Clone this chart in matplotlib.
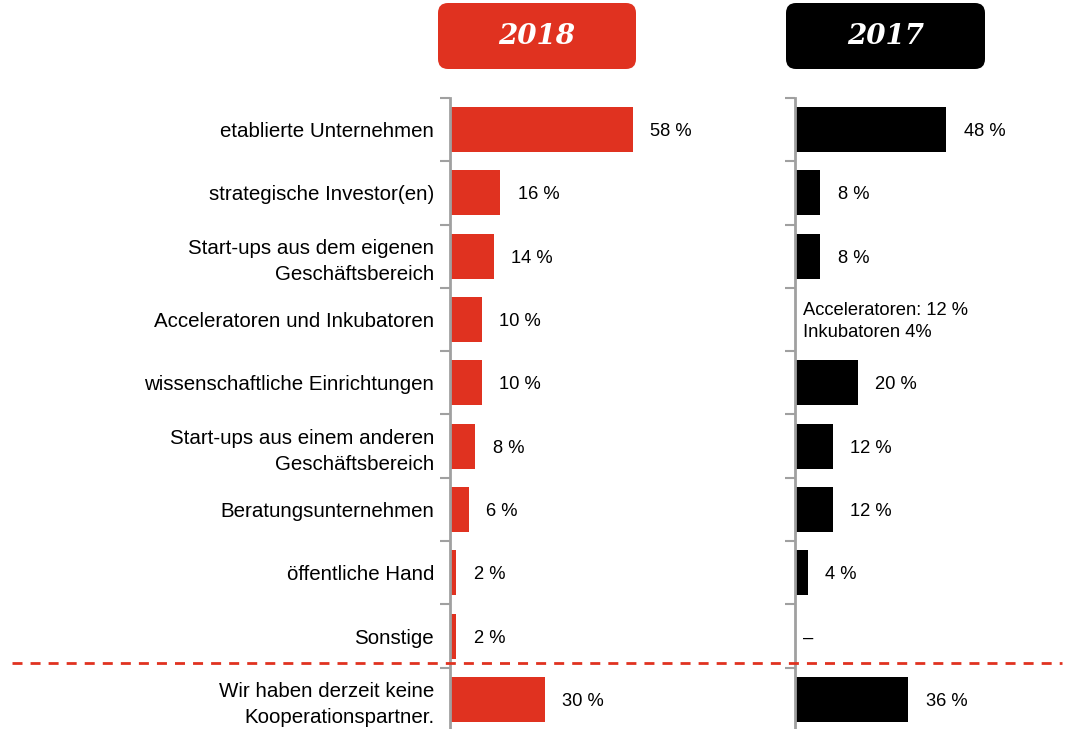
import numpy as np
import matplotlib
matplotlib.use("Agg")
import matplotlib.pyplot as plt
from matplotlib.patches import FancyBboxPatch
from matplotlib.lines import Line2D

plt.rcParams['font.family'] = ['Liberation Sans', 'DejaVu Sans']
plt.rcParams['lines.scale_dashes'] = False

categories = [
    "etablierte Unternehmen",
    "strategische Investor(en)",
    "Start-ups aus dem eigenen\nGeschäftsbereich",
    "Acceleratoren und Inkubatoren",
    "wissenschaftliche Einrichtungen",
    "Start-ups aus einem anderen\nGeschäftsbereich",
    "Beratungsunternehmen",
    "öffentliche Hand",
    "Sonstige",
    "Wir haben derzeit keine\nKooperationspartner.",
]
values_2018 = [58, 16, 14, 10, 10, 8, 6, 2, 2, 30]
values_2017 = [48, 8, 8, np.nan, 20, 12, 12, 4, np.nan, 36]
labels_2018 = ["58 %", "16 %", "14 %", "10 %", "10 %", "8 %", "6 %", "2 %", "2 %", "30 %"]
labels_2017 = ["48 %", "8 %", "8 %", "Acceleratoren: 12 %\nInkubatoren 4%", "20 %",
               "12 %", "12 %", "4 %", "–", "36 %"]

RED = "#E03220"
BLACK = "#000000"
GRAY = "#A0A0A0"

W, H = 1066, 729
fig = plt.figure(figsize=(W / 100, H / 100), dpi=100)

def px_axes(x0, x1, y0, y1):
    return fig.add_axes([x0 / W, 1 - y1 / H, (x1 - x0) / W, (y1 - y0) / H])

scale = 3.15  # px per percent
top, bottom = 98, 98 + 63.3 * 10
ax1 = px_axes(450, 450 + 60 * scale, top, bottom)
ax2 = px_axes(795, 795 + 60 * scale, top, bottom)

y = np.arange(len(categories))
for ax, vals, labs, col in [(ax1, values_2018, labels_2018, RED),
                            (ax2, values_2017, labels_2017, BLACK)]:
    ax.barh(y, np.nan_to_num(vals), height=0.71, color=col, zorder=2)
    ax.set_xlim(0, 60)
    ax.set_ylim(len(categories) - 0.5, -0.5)
    for s in ["top", "right", "bottom"]:
        ax.spines[s].set_visible(False)
    ax.spines["left"].set_color(GRAY)
    ax.spines["left"].set_linewidth(2)
    ax.set_xticks([])
    ax.set_yticks(np.arange(len(categories) + 1) - 0.5, minor=True)
    ax.tick_params(axis="y", which="minor", length=7, width=1.5, color=GRAY)
    ax.tick_params(axis="y", which="major", length=0)
    ax.patch.set_alpha(0)
    for i, (v, lab) in enumerate(zip(vals, labs)):
        if np.isnan(v):
            ax.text(2.5, i + 0.03, lab, va="center", ha="left", fontsize=13.2,
                    linespacing=1.35)
        else:
            ax.text(v + 5.5, i, lab, va="center_baseline", ha="left", fontsize=13.2)

ax1.set_yticks(y)
ax1.set_yticklabels(categories, fontsize=14.8, linespacing=1.45)
ax1.tick_params(axis="y", which="major", pad=11.5)
ax2.set_yticks(y)
ax2.set_yticklabels([])

# header boxes
for x0, x1, col, txt in [(438, 636, RED, "2018"), (786, 985, BLACK, "2017")]:
    box = FancyBboxPatch(((x0 + 10) / W, 1 - 59 / H), (x1 - x0 - 20) / W, 46 / H,
                         boxstyle="round,pad=0,rounding_size=0.012",
                         transform=fig.transFigure, facecolor=col, edgecolor="none",
                         mutation_aspect=W / H)
    box.set_boxstyle("round", pad=10 / W, rounding_size=10 / W)
    fig.patches.append(box)
    fig.text((x0 + x1) / 2 / W, 1 - 37 / H, txt, color="white", ha="center", va="center",
             fontsize=20, fontweight="bold", fontstyle="italic", family="DejaVu Serif")

# dashed separator
fig.lines.append(Line2D([12 / W, 1062 / W], [1 - 663 / H, 1 - 663 / H],
                        transform=fig.transFigure, color=RED, linewidth=2,
                        linestyle=(0, (7.2, 5.8))))

fig.savefig("out.png", dpi=100)
